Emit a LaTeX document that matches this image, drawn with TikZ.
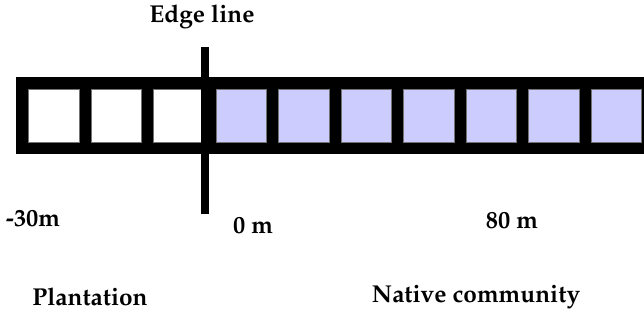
\documentclass[tikz,border=0pt]{standalone}
\usepackage[T1]{fontenc}
\usepackage{mathpazo}
\usetikzlibrary{positioning}
\definecolor{nativefill}{HTML}{CCCCFF}

\begin{document}
\begin{tikzpicture}[x=1bp,y=-1bp,font=\bfseries\fontsize{24.5}{28}\selectfont,
 cell/.style={draw=black!55,line width=.4pt,minimum width=50.5bp,minimum height=53bp,inner sep=0pt,anchor=north west},
 lab/.style={inner sep=0pt}]
\useasboundingbox (0,0) rectangle (644,322);
\clip (0,0) rectangle (644,322);
% transect strip
\node[fill=black,inner sep=0pt,minimum width=640bp,minimum height=77bp,anchor=north west] (strip) at (16,77) {};
\foreach \i in {1,...,10} {
 \ifnum\i<4 \def\cellfill{white}\else\def\cellfill{nativefill}\fi
 \node[cell,fill=\cellfill] (c\i) at ({28+62.5*(\i-1)},89) {};
}
% edge line
\node[lab] (edge) at (202,17) {Edge line};
\coordinate (edgetop) at (205,47);
\coordinate (edgebot) at (205,214);
\draw[line width=8bp] (edgetop) -- (edgebot);
% distances
\node[lab] (m30) at (33,218) {-30m};
\node[lab] (m0) at (253,225) {0 m};
\node[lab] (m80) at (512,220) {80 m};
% communities
\node[lab] (plant) at (90,297) {Plantation};
\node[lab] (native) at (476,297) {Native community};
\end{tikzpicture}
\end{document}
